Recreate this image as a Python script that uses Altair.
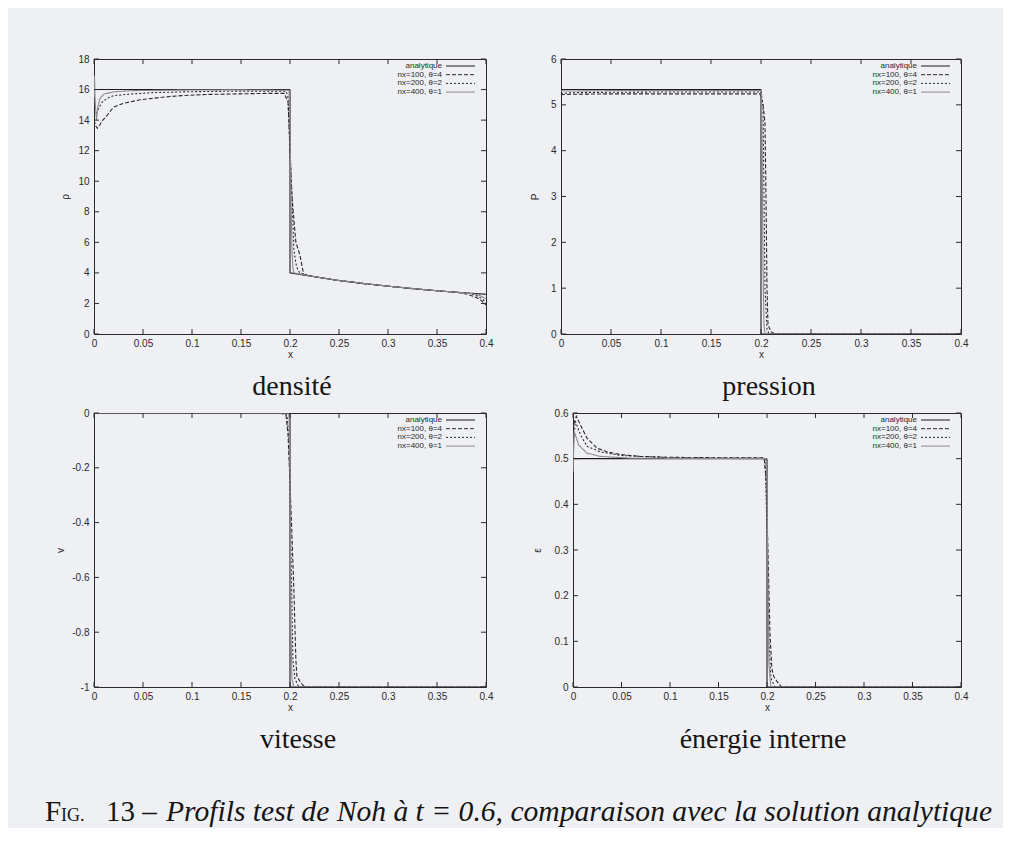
import altair as alt
import pandas as pd

# ---------------- data ----------------
SERIES = ["analytique", "nx=100, θ=4", "nx=200, θ=2", "nx=400, θ=1"]
X_TICKS = [0, 0.05, 0.1, 0.15, 0.2, 0.25, 0.3, 0.35, 0.4]

# density rho
rho_ana_x = [0.0, 0.2, 0.2, 0.215, 0.225, 0.25, 0.275, 0.3, 0.325, 0.35, 0.375, 0.4]
rho_ana_y = [16.0, 16.0, 4.0, 3.85, 3.75, 3.5, 3.3, 3.13, 2.97, 2.83, 2.71, 2.6]
rho_100_x = [0.0, 0.002, 0.0034, 0.006, 0.009, 0.012, 0.02, 0.03, 0.047, 0.07, 0.089, 0.114, 0.15, 0.175, 0.194,
             0.198, 0.202, 0.206, 0.21, 0.214, 0.225, 0.25, 0.275, 0.3, 0.325, 0.35, 0.37, 0.38, 0.39, 0.395, 0.4]
rho_100_y = [14.0, 13.6, 13.46, 13.7, 14.0, 14.2, 14.85, 15.1, 15.33, 15.5, 15.6, 15.68, 15.72, 15.75, 15.75,
             15.2, 9.0, 6.0, 5.2, 3.88, 3.75, 3.5, 3.3, 3.13, 2.97, 2.83, 2.73, 2.62, 2.4, 2.2, 1.9]
rho_200_x = [0.0, 0.0021, 0.005, 0.0084, 0.014, 0.02, 0.04, 0.06, 0.1, 0.15, 0.196, 0.198, 0.2, 0.202, 0.204,
             0.206, 0.208, 0.21, 0.225, 0.25, 0.3, 0.35, 0.375, 0.385, 0.39, 0.395, 0.4]
rho_200_y = [14.6, 14.4, 14.8, 15.18, 15.45, 15.6, 15.72, 15.8, 15.86, 15.9, 15.9, 15.5, 12.0, 9.0, 5.5,
             4.6, 4.2, 4.0, 3.75, 3.5, 3.13, 2.83, 2.71, 2.64, 2.52, 2.35, 2.08]
rho_400_x = [0.0, 0.0005, 0.0012, 0.0025, 0.004, 0.006, 0.01, 0.02, 0.04, 0.1, 0.15, 0.199, 0.2, 0.201, 0.202,
             0.203, 0.204, 0.225, 0.25, 0.3, 0.35, 0.375, 0.39, 0.395, 0.4]
rho_400_y = [15.5, 16.9, 15.2, 14.0, 14.9, 15.4, 15.7, 15.85, 15.93, 15.97, 15.98, 15.95, 14.0, 9.0, 5.5,
             4.3, 4.0, 3.75, 3.5, 3.13, 2.83, 2.71, 2.6, 2.48, 2.3]

# pressure P
p_ana_x = [0.0, 0.2, 0.2, 0.4]
p_ana_y = [5.333, 5.333, 0.0, 0.0]
p_100_x = [0.0, 0.01, 0.05, 0.1, 0.15, 0.199, 0.202, 0.204, 0.205, 0.206, 0.207, 0.21, 0.214, 0.4]
p_100_y = [5.22, 5.23, 5.24, 5.24, 5.24, 5.24, 5.0, 4.6, 3.0, 1.0, 0.2, 0.05, 0.0, 0.0]
p_200_x = [0.0, 0.02, 0.1, 0.2, 0.202, 0.203, 0.204, 0.206, 0.208, 0.4]
p_200_y = [5.25, 5.27, 5.28, 5.28, 5.0, 3.0, 1.0, 0.1, 0.0, 0.0]
p_400_x = [0.0, 0.05, 0.2, 0.201, 0.202, 0.203, 0.204, 0.4]
p_400_y = [5.3, 5.31, 5.31, 4.5, 1.5, 0.2, 0.0, 0.0]

# velocity v
v_ana_x = [0.0, 0.2, 0.2, 0.4]
v_ana_y = [0.0, 0.0, -1.0, -1.0]
v_100_x = [0.0, 0.19, 0.194, 0.196, 0.198, 0.2, 0.202, 0.204, 0.206, 0.207, 0.211, 0.215, 0.4]
v_100_y = [0.0, 0.0, -0.005, -0.01, -0.08, -0.25, -0.45, -0.65, -0.9, -0.96, -0.985, -1.0, -1.0]
v_200_x = [0.0, 0.195, 0.197, 0.199, 0.201, 0.203, 0.205, 0.209, 0.4]
v_200_y = [0.0, 0.0, -0.01, -0.1, -0.5, -0.9, -0.97, -1.0, -1.0]
v_400_x = [0.0, 0.198, 0.199, 0.2, 0.201, 0.202, 0.204, 0.4]
v_400_y = [0.0, 0.0, -0.01, -0.2, -0.8, -0.97, -1.0, -1.0]

# internal energy e
e_ana_x = [0.0, 0.2, 0.2, 0.4]
e_ana_y = [0.5, 0.5, 0.0, 0.0]
e_100_x = [0.0, 0.0007, 0.0034, 0.0076, 0.0144, 0.0247, 0.035, 0.0488, 0.069, 0.1, 0.15, 0.197, 0.199, 0.201,
           0.203, 0.205, 0.207, 0.211, 0.215, 0.4]
e_100_y = [0.55, 0.575, 0.593, 0.574, 0.545, 0.523, 0.515, 0.509, 0.505, 0.503, 0.502, 0.502, 0.46, 0.3,
           0.12, 0.04, 0.023, 0.01, 0.0, 0.0]
e_200_x = [0.0, 0.0024, 0.0076, 0.0144, 0.028, 0.049, 0.1, 0.198, 0.2, 0.202, 0.204, 0.208, 0.4]
e_200_y = [0.52, 0.582, 0.553, 0.527, 0.515, 0.507, 0.502, 0.501, 0.35, 0.1, 0.02, 0.0, 0.0]
e_400_x = [0.0, 0.0012, 0.0058, 0.0144, 0.028, 0.06, 0.199, 0.2, 0.201, 0.202, 0.204, 0.4]
e_400_y = [0.47, 0.56, 0.53, 0.512, 0.505, 0.501, 0.5, 0.45, 0.2, 0.05, 0.0, 0.0]

CAPTIONS = ["densité", "pression", "vitesse", "énergie interne"]
Y_TITLES = ["ρ", "P", "v", "ε"]
FIG_LABEL_PARTS = ["F", "IG.", "13 –"]
FIG_TEXT = "Profils test de Noh à t = 0.6, comparaison avec la solution analytique"

# ---------------- style ----------------
BG = "#eff0f4"
INK = "#2a2a2a"
SANS = "Liberation Sans"
SERIF = "Liberation Serif"
COLORS = ["#1a1a1a", "#2a2a2a", "#2a2a2a", "#8c8c8c"]
DASHES = [[1, 0], [4, 2], [2, 2], [1, 0]]
TL = 5      # inward tick length
EXT = 50    # reserved left extent of every y axis


def make_df(pairs):
    rows = []
    for name, xs, ys in pairs:
        for i, (xv, yv) in enumerate(zip(xs, ys)):
            rows.append({"series": name, "x": xv, "y": yv, "i": i})
    return pd.DataFrame(rows)


def panel(df, ytitle, ydom, yticks, w, h, title_x, caption, cap_dx):
    xenc = alt.X("x:Q", scale=alt.Scale(domain=[0, 0.4], nice=False, zero=False),
                 axis=alt.Axis(values=X_TICKS, title="x", labelExpr="'' + datum.value",
                               labelPadding=4, titleY=20, titleBaseline="middle",
                               minExtent=24, maxExtent=24))
    yenc = alt.Y("y:Q", scale=alt.Scale(domain=ydom, nice=False, zero=False),
                 axis=alt.Axis(values=yticks, title=ytitle, labelExpr="'' + datum.value",
                               labelPadding=5, titleX=title_x, titleY=h / 2, titleAngle=270,
                               titleAlign="center", titleBaseline="middle",
                               minExtent=EXT, maxExtent=EXT))
    lines = alt.Chart(df).mark_line(strokeWidth=1.1, clip=True).encode(
        x=xenc, y=yenc,
        color=alt.Color("series:N", scale=alt.Scale(domain=SERIES, range=COLORS), legend=None),
        strokeDash=alt.StrokeDash("series:N", scale=alt.Scale(domain=SERIES, range=DASHES), legend=None),
        order=alt.Order("i:Q"),
    )
    layers = [lines]
    xt = pd.DataFrame({"x": X_TICKS})
    yt = pd.DataFrame({"y": yticks})
    for (a, b) in [(0, TL), (h - TL, h)]:
        layers.append(alt.Chart(xt).mark_rule(color=INK, strokeWidth=1).encode(
            x=xenc, y=alt.value(a), y2=alt.value(b)))
    for (a, b) in [(0, TL), (w - TL, w)]:
        layers.append(alt.Chart(yt).mark_rule(color=INK, strokeWidth=1).encode(
            y=yenc, x=alt.value(a), x2=alt.value(b)))
    for k, name in enumerate(SERIES):
        yy = 7 + 8.7 * k
        d = pd.DataFrame({"t": [name]})
        layers.append(alt.Chart(d).mark_text(align="right", baseline="middle", font=SANS, fontSize=8,
                                             color=INK).encode(text="t:N", x=alt.value(w - 44), y=alt.value(yy)))
        layers.append(alt.Chart(d).mark_rule(color=COLORS[k], strokeDash=DASHES[k], strokeWidth=1).encode(
            x=alt.value(w - 40), x2=alt.value(w - 11), y=alt.value(yy)))
    return alt.layer(*layers).properties(
        width=w, height=h,
        title=alt.TitleParams(caption, orient="bottom", font=SERIF, fontSize=28, fontWeight="normal",
                              color="#151515", offset=14, dx=cap_dx, anchor="middle"))


df_rho = make_df([(SERIES[0], rho_ana_x, rho_ana_y), (SERIES[1], rho_100_x, rho_100_y),
                  (SERIES[2], rho_200_x, rho_200_y), (SERIES[3], rho_400_x, rho_400_y)])
df_p = make_df([(SERIES[0], p_ana_x, p_ana_y), (SERIES[1], p_100_x, p_100_y),
                (SERIES[2], p_200_x, p_200_y), (SERIES[3], p_400_x, p_400_y)])
df_v = make_df([(SERIES[0], v_ana_x, v_ana_y), (SERIES[1], v_100_x, v_100_y),
                (SERIES[2], v_200_x, v_200_y), (SERIES[3], v_400_x, v_400_y)])
df_e = make_df([(SERIES[0], e_ana_x, e_ana_y), (SERIES[1], e_100_x, e_100_y),
                (SERIES[2], e_200_x, e_200_y), (SERIES[3], e_400_x, e_400_y)])

p1 = panel(df_rho, Y_TITLES[0], [0, 18], list(range(0, 19, 2)), 392, 275, -29, CAPTIONS[0], 2)
p2 = panel(df_p, Y_TITLES[1], [0, 6], list(range(0, 7)), 400, 275, -26, CAPTIONS[1], 8)
p3 = panel(df_v, Y_TITLES[2], [-1, 0], [-1, -0.8, -0.6, -0.4, -0.2, 0], 392, 274, -34, CAPTIONS[2], 8)
p4 = panel(df_e, Y_TITLES[3], [0, 0.6], [0, 0.1, 0.2, 0.3, 0.4, 0.5, 0.6], 388, 274, -36, CAPTIONS[3], -4)

# figure caption ("FIG." in small capitals, rest italic)
cap_layers = []
cap_specs = [(FIG_LABEL_PARTS[0], -49, 29, "normal"), (FIG_LABEL_PARTS[1], -33, 18, "normal"),
             (FIG_LABEL_PARTS[2], 12, 29, "normal"), (FIG_TEXT, 72, 29.6, "italic")]
for txt, xx, fs, st in cap_specs:
    cap_layers.append(alt.Chart(pd.DataFrame({"t": [txt]})).mark_text(
        align="left", baseline="alphabetic", font=SERIF, fontSize=fs, fontStyle=st, color="#151515"
    ).encode(text="t:N", x=alt.value(xx), y=alt.value(60)))
cap = alt.layer(*cap_layers).properties(width=860, height=66,
                                         view=alt.ViewBackground(stroke="transparent"))

row1 = alt.hconcat(p1, p2, spacing=16)
row2 = alt.hconcat(p3, p4, spacing=28)
chart = alt.concat(row1, row2, cap, columns=1, align="none", spacing=5).properties(
    padding={"left": 35, "top": 45, "right": 10, "bottom": 0}, background=BG
).configure_view(stroke=INK, strokeWidth=1).configure_axis(
    ticks=False, domain=False, grid=False, labelFont=SANS, labelFontSize=10, labelColor=INK,
    titleFont=SANS, titleFontSize=10, titleFontWeight="normal", titleColor=INK,
    labelFlush=False, labelOverlap=False)

chart.save("out.html", embed_options={"renderer": "svg", "actions": False})
